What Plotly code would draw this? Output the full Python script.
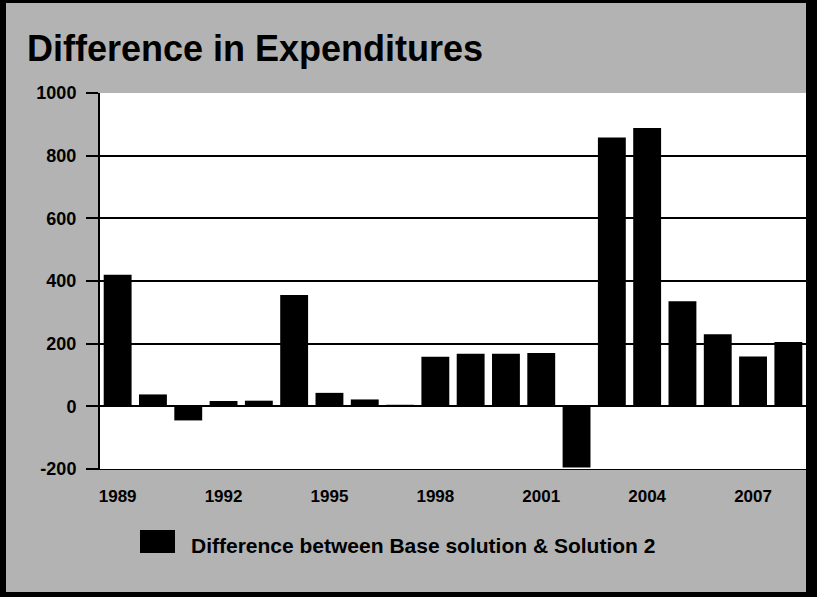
import plotly.graph_objects as go

# Yearly difference in expenditures (Base solution minus Solution 2)
years = list(range(1989, 2009))
difference = [420, 38, -45, 17, 18, 355, 43, 22, 5, 158,
              168, 168, 170, -195, 858, 888, 335, 230, 159, 205]
series_name = "Difference between Base solution & Solution 2"
title_text = "Difference in Expenditures"

x_tick_years = [1989, 1992, 1995, 1998, 2001, 2004, 2007]
y_ticks = [-200, 0, 200, 400, 600, 800, 1000]

W, H = 817, 597
ML, MR, MT, MB = 100, 11, 93, 128
PW, PH = W - ML - MR, H - MT - MB


def fx(px):
    return (px - ML) / PW


def fy(py):
    return (H - MB - py) / PH


FONT = "Liberation Sans, Arial, Helvetica, sans-serif"

fig = go.Figure()
fig.add_trace(go.Bar(
    x=years, y=difference, name=series_name,
    marker=dict(color="black", line=dict(width=0)),
    showlegend=False,
))

shapes = [
    # legend swatch
    dict(type="rect", xref="paper", yref="paper",
         x0=fx(140), x1=fx(175), y0=fy(553), y1=fy(530),
         fillcolor="black", line=dict(width=0), layer="above"),
    # outer frame
    dict(type="rect", xref="paper", yref="paper",
         x0=fx(0), x1=fx(6), y0=fy(H), y1=fy(0),
         fillcolor="black", line=dict(width=0), layer="above"),
    dict(type="rect", xref="paper", yref="paper",
         x0=fx(0), x1=fx(W), y0=fy(3), y1=fy(0),
         fillcolor="black", line=dict(width=0), layer="above"),
    dict(type="rect", xref="paper", yref="paper",
         x0=fx(806), x1=fx(W), y0=fy(H), y1=fy(0),
         fillcolor="black", line=dict(width=0), layer="above"),
    dict(type="rect", xref="paper", yref="paper",
         x0=fx(0), x1=fx(W), y0=fy(H), y1=fy(592),
         fillcolor="black", line=dict(width=0), layer="above"),
]

annotations = [
    dict(text=f"<b>{series_name}</b>", xref="paper", yref="paper",
         x=fx(189), y=fy(545), xanchor="left", yanchor="middle",
         showarrow=False, font=dict(family=FONT, size=21, color="black")),
]

fig.update_layout(
    width=W, height=H,
    margin=dict(l=ML, r=MR, t=MT, b=MB, pad=0),
    paper_bgcolor="#b3b3b3",
    plot_bgcolor="white",
    title=dict(text=f"<b>{title_text}</b>", x=27 / W, xanchor="left",
               y=1 - 48 / H, yanchor="middle",
               font=dict(family=FONT, size=36, color="black")),
    bargap=0.21,
    shapes=shapes,
    annotations=annotations,
    xaxis=dict(
        range=[1988.5, 2008.5],
        tickvals=x_tick_years, ticktext=[str(v) for v in x_tick_years],
        ticks="", showgrid=False, zeroline=False,
        showline=True, linecolor="black", linewidth=1,
        tickfont=dict(family=FONT, size=17, color="black", weight="bold"),
        ticklabelstandoff=12,
    ),
    yaxis=dict(
        range=[-200, 1000],
        tickvals=y_ticks, ticktext=[str(v) for v in y_ticks],
        ticks="outside", ticklen=12, tickwidth=2, tickcolor="black",
        showgrid=True, gridcolor="black", gridwidth=2,
        zeroline=True, zerolinecolor="black", zerolinewidth=2,
        showline=True, linecolor="black", linewidth=2,
        tickfont=dict(family=FONT, size=18, color="black", weight="bold"),
        ticklabelstandoff=6,
    ),
)

fig.write_html("out.html")
